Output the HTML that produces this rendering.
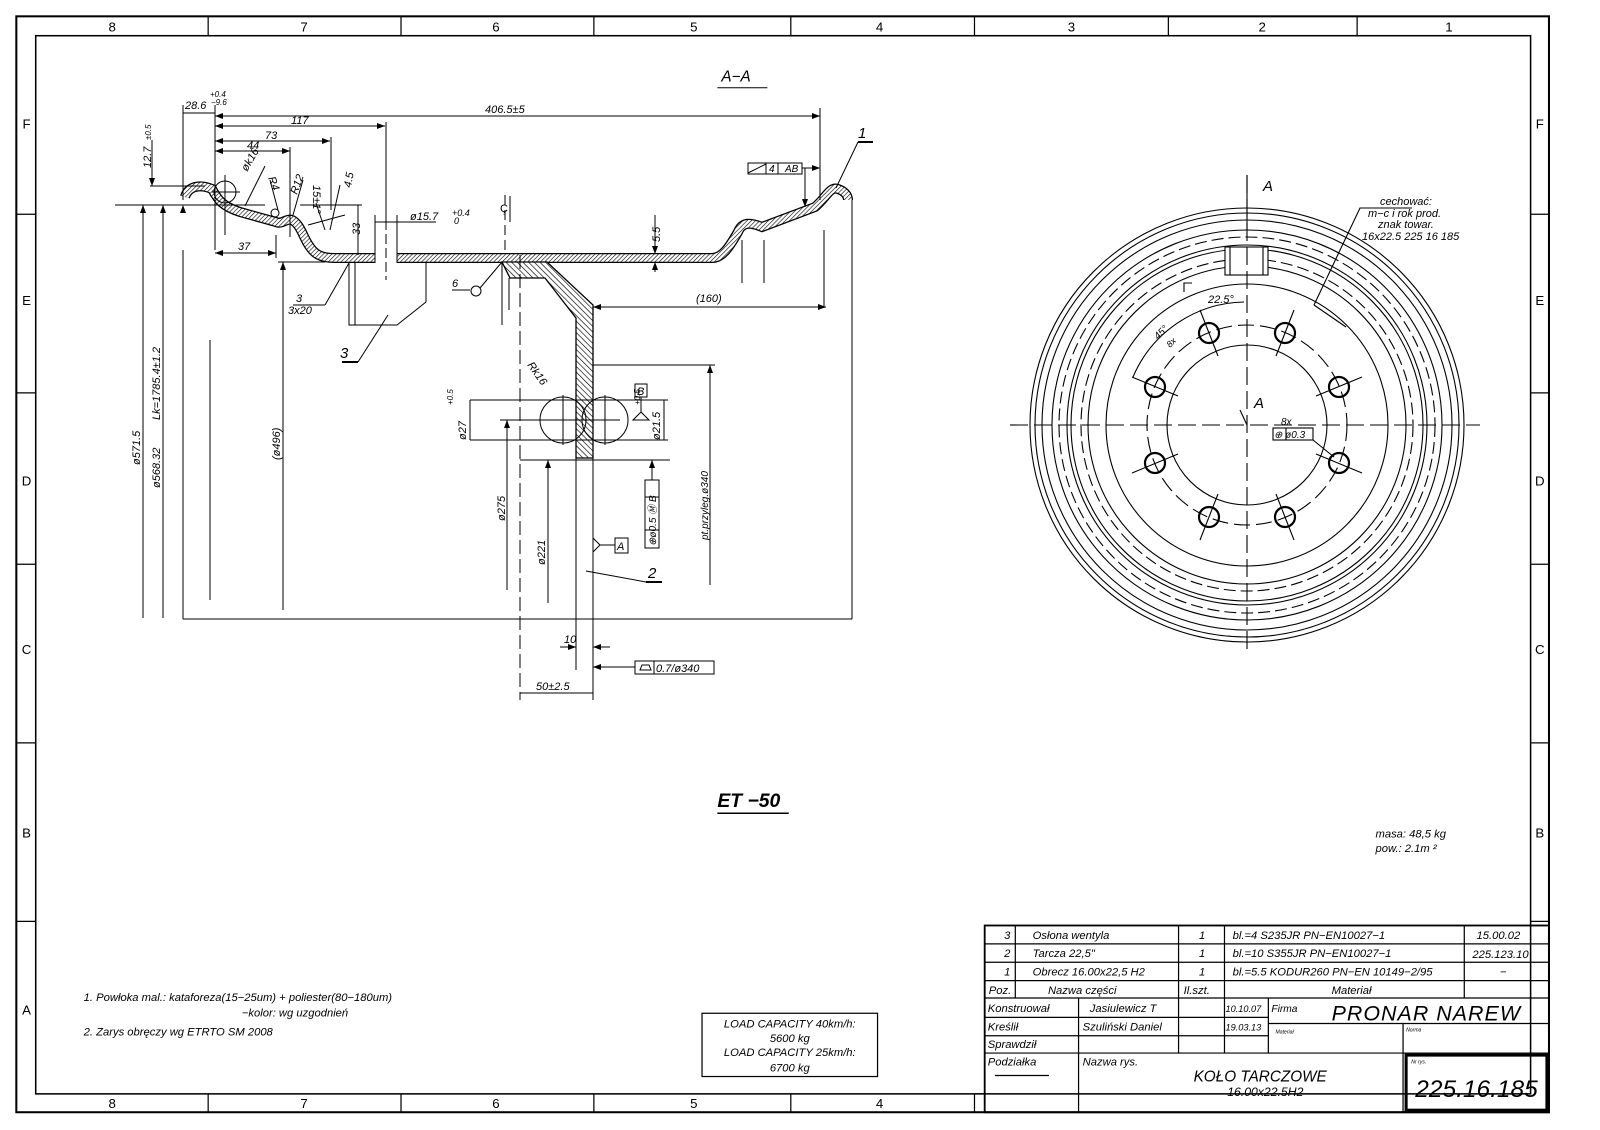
<!DOCTYPE html>
<html><head><meta charset="utf-8"><style>
html,body{margin:0;padding:0;background:#fff;}
svg{display:block;}
text{font-family:"Liberation Sans",sans-serif;font-style:italic;fill:#000;}
</style></head><body>
<svg width="1600" height="1130" viewBox="0 0 1600 1130" xmlns="http://www.w3.org/2000/svg">
<defs>
<pattern id="h" width="3" height="3" patternUnits="userSpaceOnUse" patternTransform="rotate(45)"><rect width="3" height="3" fill="#fff"/><line x1="0" y1="0" x2="0" y2="3" stroke="#000" stroke-width="1.2"/></pattern>
<pattern id="h2" width="4" height="4" patternUnits="userSpaceOnUse" patternTransform="rotate(-45)"><rect width="4" height="4" fill="#fff"/><line x1="0" y1="0" x2="0" y2="4" stroke="#000" stroke-width="1.3"/></pattern>
</defs>
<g transform="scale(1.0204)">
<g fill="none" stroke="#000">
<rect x="16" y="16" width="1502" height="1074" stroke-width="2"/>
<rect x="35" y="35" width="1465" height="1037" stroke-width="1.5"/>
<g stroke-width="1.2">
<line x1="204" y1="16" x2="204" y2="35"/><line x1="393" y1="16" x2="393" y2="35"/><line x1="582" y1="16" x2="582" y2="35"/><line x1="775" y1="16" x2="775" y2="35"/><line x1="955" y1="16" x2="955" y2="35"/><line x1="1145" y1="16" x2="1145" y2="35"/><line x1="1330" y1="16" x2="1330" y2="35"/>
<line x1="204" y1="1072" x2="204" y2="1090"/><line x1="393" y1="1072" x2="393" y2="1090"/><line x1="582" y1="1072" x2="582" y2="1090"/><line x1="775" y1="1072" x2="775" y2="1090"/><line x1="955" y1="1072" x2="955" y2="1090"/>
<line x1="16" y1="210" x2="35" y2="210"/><line x1="16" y1="385" x2="35" y2="385"/><line x1="16" y1="553" x2="35" y2="553"/><line x1="16" y1="728" x2="35" y2="728"/><line x1="16" y1="903" x2="35" y2="903"/>
<line x1="1500" y1="210" x2="1518" y2="210"/><line x1="1500" y1="385" x2="1518" y2="385"/><line x1="1500" y1="553" x2="1518" y2="553"/><line x1="1500" y1="728" x2="1518" y2="728"/><line x1="1500" y1="903" x2="1518" y2="903"/>
</g>
</g>
<g font-size="13" text-anchor="middle">
<text x="110" y="31" style="font-style:normal">8</text><text x="298" y="31" style="font-style:normal">7</text><text x="486" y="31" style="font-style:normal">6</text><text x="680" y="31" style="font-style:normal">5</text><text x="862" y="31" style="font-style:normal">4</text><text x="1050" y="31" style="font-style:normal">3</text><text x="1237" y="31" style="font-style:normal">2</text><text x="1420" y="31" style="font-style:normal">1</text>
<text x="110" y="1086" style="font-style:normal">8</text><text x="298" y="1086" style="font-style:normal">7</text><text x="486" y="1086" style="font-style:normal">6</text><text x="680" y="1086" style="font-style:normal">5</text><text x="862" y="1086" style="font-style:normal">4</text>
<text x="26" y="126" style="font-style:normal">F</text><text x="26" y="299" style="font-style:normal">E</text><text x="26" y="476" style="font-style:normal">D</text><text x="26" y="641" style="font-style:normal">C</text><text x="26" y="821" style="font-style:normal">B</text><text x="26" y="994" style="font-style:normal">A</text>
<text x="1509" y="126" style="font-style:normal">F</text><text x="1509" y="299" style="font-style:normal">E</text><text x="1509" y="476" style="font-style:normal">D</text><text x="1509" y="641" style="font-style:normal">C</text><text x="1509" y="821" style="font-style:normal">B</text>
</g>
<g font-size="11">
<text x="1348" y="821">masa:  48,5 kg</text>
<text x="1348" y="835">pow.: 2.1m ²</text>
<text x="82" y="981">1. Powłoka mal.: kataforeza(15−25um) + poliester(80−180um)</text>
<text x="237" y="996">−kolor: wg uzgodnień</text>
<text x="82" y="1015">2. Zarys obręczy wg ETRTO SM 2008</text>
</g>
<rect x="688" y="993" width="172" height="62" fill="none" stroke="#000" stroke-width="1.2"/>
<g font-size="11" text-anchor="middle">
<text x="774" y="1007">LOAD CAPACITY 40km/h:</text><text x="774" y="1021">5600 kg</text>
<text x="774" y="1035">LOAD CAPACITY 25km/h:</text><text x="774" y="1050">6700 kg</text>
</g>
<text x="703" y="791" font-size="19" font-weight="bold">ET −50</text>
<line x1="703" y1="797" x2="773" y2="797" stroke="#000" stroke-width="1.5"/>
<text x="707" y="80" font-size="15">A−A</text>
<line x1="703" y1="86" x2="752" y2="86" stroke="#000"/>
<!-- TITLE BLOCK -->
<g fill="none" stroke="#000" stroke-width="1.2">
<rect x="965" y="907" width="553" height="183" stroke-width="1.8"/>
<line x1="965" y1="925" x2="1518" y2="925"/><line x1="965" y1="943" x2="1518" y2="943"/><line x1="965" y1="961" x2="1518" y2="961"/><line x1="965" y1="978" x2="1518" y2="978"/>
<line x1="965" y1="997" x2="1243" y2="997"/><line x1="965" y1="1015" x2="1243" y2="1015"/><line x1="1243" y1="1003" x2="1518" y2="1003"/><line x1="965" y1="1032" x2="1518" y2="1032"/>
<line x1="995" y1="907" x2="995" y2="978"/><line x1="1155" y1="907" x2="1155" y2="1032"/><line x1="1200" y1="907" x2="1200" y2="1032"/><line x1="1435" y1="907" x2="1435" y2="978"/>
<line x1="1057" y1="978" x2="1057" y2="1090"/><line x1="1243" y1="978" x2="1243" y2="1032"/><line x1="1375" y1="1003" x2="1375" y2="1090"/>
<rect x="1378" y="1034" width="138" height="54" stroke-width="3"/>
<line x1="975" y1="1054" x2="1028" y2="1054"/>
<line x1="955" y1="1072" x2="965" y2="1072"/>
</g>
<g font-size="11">
<text x="984" y="920">3</text><text x="1012" y="920">Osłona wentyla</text><text x="1175" y="920">1</text><text x="1208" y="920">bl.=4  S235JR     PN−EN10027−1</text><text x="1447" y="920">15.00.02</text>
<text x="984" y="938">2</text><text x="1012" y="938">Tarcza 22,5"</text><text x="1175" y="938">1</text><text x="1208" y="938">bl.=10 S355JR     PN−EN10027−1</text><text x="1443" y="939">225.123.10</text>
<text x="984" y="956">1</text><text x="1012" y="956">Obrecz 16.00x22,5 H2</text><text x="1175" y="956">1</text><text x="1208" y="956">bl.=5.5 KODUR260 PN−EN 10149−2/95</text><text x="1470" y="956">−</text>
<text x="969" y="974">Poz.</text><text x="1027" y="974">Nazwa części</text><text x="1160" y="974">Il.szt.</text><text x="1305" y="974">Materiał</text>
<text x="968" y="992">Konstruował</text><text x="1068" y="992">Jasiulewicz T</text><text x="1201" y="992" font-size="9">10.10.07</text><text x="1246" y="992" font-size="10">Firma</text>
<text x="968" y="1010">Kreślił</text><text x="1061" y="1010">Szuliński Daniel</text><text x="1201" y="1010" font-size="9">19.03.13</text>
<text x="1250" y="1013" font-size="5">Materiał</text><text x="1378" y="1011" font-size="5">Norma</text>
<text x="968" y="1027">Sprawdził</text>
<text x="968" y="1044">Podziałka</text><text x="1061" y="1044">Nazwa rys.</text>
<text x="1383" y="1042" font-size="5">Nr rys.</text>
<text x="1305" y="1000" font-size="21" style="letter-spacing:1px">PRONAR  NAREW</text>
<text x="1235" y="1060" font-size="15" text-anchor="middle">KOŁO  TARCZOWE</text>
<text x="1240" y="1074" font-size="12" text-anchor="middle">16.00x22.5H2</text>
<text x="1447" y="1075" font-size="24" text-anchor="middle">225.16.185</text>
</g>
</g>

<!-- SECTION VIEW (original coords) -->
<g fill="none" stroke="#000" stroke-width="1">
<polyline points="183,250 183,619"/>
<line x1="183" y1="619" x2="852" y2="619"/>
<line x1="852" y1="199" x2="852" y2="619"/>
<path d="M185,197 C188,186 200,184 212,189 C218,200 222,206 240,212 L276,222 C282,225 286,218 292,220 C300,224 303,236 308,244 C314,254 320,258 335,258 L375,258 M397,258 L712,258 C724,258 732,242 738,232 C742,222 750,222 762,227 L815,207 C826,198 830,186 838,189 C844,191 848,195 848,200" stroke="#000" stroke-width="10"/>
<path d="M185,197 C188,186 200,184 212,189 C218,200 222,206 240,212 L276,222 C282,225 286,218 292,220 C300,224 303,236 308,244 C314,254 320,258 335,258 L375,258 M397,258 L712,258 C724,258 732,242 738,232 C742,222 750,222 762,227 L815,207 C826,198 830,186 838,189 C844,191 848,195 848,200" stroke="url(#h)" stroke-width="7.5"/>
<line x1="375" y1="253" x2="375" y2="263"/><line x1="397" y1="253" x2="397" y2="263"/>
<polygon points="502,262 547,262 593,305 593,458 576,458 576,318 545,278 510,278" fill="url(#h2)" stroke-width="1.3"/>
<circle cx="563" cy="420" r="23"/><circle cx="605" cy="420" r="23"/>
<line x1="563" y1="395" x2="563" y2="445"/><line x1="605" y1="395" x2="605" y2="445"/>
<line x1="470" y1="400" x2="668" y2="400"/><line x1="470" y1="440" x2="668" y2="440"/>
<line x1="500" y1="420" x2="620" y2="420"/>
<line x1="520" y1="460" x2="670" y2="460"/>
<line x1="576" y1="458" x2="576" y2="670"/><line x1="593" y1="458" x2="593" y2="700"/>
<line x1="520" y1="255" x2="520" y2="700" stroke-dasharray="14,5"/>
<line x1="502" y1="262" x2="502" y2="325"/><line x1="509" y1="278" x2="509" y2="310"/>
<line x1="505" y1="195" x2="505" y2="250" stroke-dasharray="10,5"/>
<polyline points="349,262 349,325 397,325 426,302 426,262"/>
<line x1="355" y1="262" x2="355" y2="325"/>
<line x1="386" y1="220" x2="386" y2="280" stroke-dasharray="10,4"/>
<line x1="375" y1="215" x2="375" y2="253"/><line x1="397" y1="215" x2="397" y2="253"/>
<line x1="742" y1="240" x2="742" y2="283"/><line x1="764" y1="240" x2="764" y2="283"/><line x1="824" y1="230" x2="824" y2="308"/>
<line x1="278" y1="262" x2="325" y2="262"/>
<line x1="115" y1="205" x2="265" y2="205"/>
<line x1="143" y1="205" x2="143" y2="618"/><line x1="163" y1="205" x2="163" y2="618"/>
<line x1="210" y1="340" x2="210" y2="600"/>
<line x1="283" y1="262" x2="283" y2="610"/>
<line x1="150" y1="186" x2="205" y2="186"/><line x1="152" y1="140" x2="152" y2="186"/>
<line x1="183" y1="105" x2="183" y2="200"/><line x1="215" y1="105" x2="215" y2="250"/>
<line x1="183" y1="113" x2="215" y2="113"/>
<line x1="215" y1="116" x2="820" y2="116"/><line x1="820" y1="108" x2="820" y2="200"/>
<line x1="215" y1="126" x2="385" y2="126"/><line x1="386" y1="122" x2="386" y2="225"/>
<line x1="215" y1="141" x2="330" y2="141"/><line x1="331" y1="137" x2="331" y2="210"/>
<line x1="215" y1="151" x2="290" y2="151"/><line x1="290" y1="147" x2="290" y2="237"/>
<line x1="215" y1="253" x2="276" y2="253"/><line x1="276" y1="235" x2="276" y2="258"/>
<line x1="245" y1="206" x2="265" y2="166"/>
<circle cx="225" cy="192" r="11"/><line x1="225" y1="175" x2="225" y2="235"/><line x1="212" y1="192" x2="240" y2="192"/>
<circle cx="275" cy="213" r="4"/>
<line x1="270" y1="180" x2="278" y2="210"/><line x1="303" y1="180" x2="293" y2="215"/>
<line x1="308" y1="225" x2="345" y2="215"/><line x1="316" y1="203" x2="325" y2="230"/>
<line x1="340" y1="185" x2="330" y2="230"/>
<line x1="300" y1="205" x2="362" y2="205"/><line x1="358" y1="205" x2="358" y2="255"/>
<line x1="375" y1="222" x2="436" y2="222"/>
<line x1="510" y1="196" x2="510" y2="222"/>
<line x1="452" y1="290" x2="470" y2="290"/><circle cx="476" cy="291" r="5"/><line x1="480" y1="288" x2="502" y2="262"/>
<line x1="293" y1="305" x2="325" y2="305"/><line x1="325" y1="305" x2="349" y2="263"/>
<line x1="342" y1="362" x2="358" y2="362" stroke-width="2"/><line x1="358" y1="362" x2="388" y2="315"/>
<line x1="858" y1="142" x2="873" y2="142" stroke-width="2"/><line x1="858" y1="142" x2="836" y2="188"/>
<line x1="646" y1="582" x2="662" y2="582" stroke-width="2"/><line x1="646" y1="582" x2="586" y2="571"/>
<line x1="655" y1="215" x2="655" y2="254"/><line x1="655" y1="262" x2="655" y2="272"/>
<rect x="748" y="163" width="54" height="11"/><line x1="766" y1="163" x2="766" y2="174"/><line x1="778" y1="163" x2="778" y2="174"/>
<line x1="748" y1="173" x2="766" y2="164"/>
<line x1="802" y1="168" x2="820" y2="168"/><line x1="805" y1="168" x2="805" y2="207"/>
<line x1="593" y1="307" x2="826" y2="307"/>
<line x1="593" y1="365" x2="715" y2="365"/><line x1="710" y1="365" x2="710" y2="585"/>
<line x1="507" y1="420" x2="507" y2="590"/><line x1="548" y1="460" x2="548" y2="603"/>
<line x1="470" y1="400" x2="470" y2="440"/>
<line x1="664" y1="400" x2="664" y2="440"/>
<rect x="635" y="384" width="12" height="13"/><line x1="641" y1="397" x2="641" y2="412"/><polygon points="633,420 649,420 641,412"/>
<rect x="645" y="480" width="14" height="68"/><line x1="645" y1="497" x2="659" y2="497"/><line x1="645" y1="530" x2="659" y2="530"/>
<line x1="652" y1="460" x2="652" y2="480"/>
<polyline points="593,538 600,545 593,552"/><line x1="600" y1="545" x2="615" y2="545"/><rect x="615" y="538" width="13" height="15"/>
<line x1="560" y1="647" x2="576" y2="647"/><line x1="593" y1="647" x2="610" y2="647"/>
<line x1="593" y1="667" x2="635" y2="667"/><rect x="635" y="661" width="79" height="13"/><line x1="654" y1="661" x2="654" y2="674"/><polygon points="640,670 651,670 649,665 642,665"/>
<line x1="520" y1="693" x2="593" y2="693"/>
</g>
<g fill="#000">
<polygon points="152,186 149,178 155,178"/><polygon points="143,205 140,213 146,213"/><polygon points="163,205 160,213 166,213"/><polygon points="183,205 180,213 186,213"/>
<polygon points="283,262 280,270 286,270"/><polygon points="820,116 812,113 812,119"/><polygon points="215,116 223,113 223,119"/>
<polygon points="385,126 377,123 377,129"/><polygon points="215,126 223,123 223,129"/><polygon points="330,141 322,138 322,144"/><polygon points="215,141 223,138 223,144"/><polygon points="290,151 282,148 282,154"/><polygon points="215,151 223,148 223,154"/>
<polygon points="276,253 268,250 268,256"/><polygon points="215,253 223,250 223,256"/>
<polygon points="593,307 601,304 601,310"/><polygon points="826,307 818,304 818,310"/>
<polygon points="710,365 707,373 713,373"/><polygon points="507,420 504,428 510,428"/><polygon points="548,460 545,468 551,468"/><polygon points="652,460 649,468 655,468"/>
<polygon points="576,647 568,644 568,650"/><polygon points="593,647 601,644 601,650"/><polygon points="593,667 601,664 601,670"/>
<polygon points="820,168 812,165 812,171"/><polygon points="805,207 802,199 808,199"/>
<polygon points="655,254 652,246 658,246"/><polygon points="655,262 652,270 658,270"/>
</g>
<g font-size="11">
<text x="185" y="109">28.6</text><text x="210" y="97" font-size="8">+0.4</text><text x="211" y="105" font-size="8">−9.6</text>
<text x="485" y="113">406.5±5</text><text x="291" y="124">117</text><text x="265" y="139">73</text><text x="247" y="149">44</text><text x="238" y="250">37</text>
<text transform="translate(151,168) rotate(-90)">12.7</text><text transform="translate(151,140) rotate(-90)" font-size="8">±0.5</text>
<text transform="translate(247,172) rotate(-60)">øk16</text>
<text transform="translate(268,178) rotate(70)">R4</text>
<text transform="translate(297,195) rotate(-70)">R12</text>
<text transform="translate(313,185) rotate(90)">15±1°</text>
<text transform="translate(351,188) rotate(-80)">4.5</text>
<text transform="translate(360,235) rotate(-90)">33</text>
<text x="410" y="220">ø15.7</text><text x="452" y="216" font-size="9">+0.4</text><text x="454" y="224" font-size="9">0</text>
<text x="500" y="212" style="font-style:normal">Ç</text>
<text transform="translate(660,242) rotate(-90)">5.5</text>
<text x="452" y="287">6</text><text x="296" y="302">3</text><text x="288" y="314">3x20</text>
<text x="340" y="358" font-size="15">3</text><text x="858" y="138" font-size="15">1</text><text x="648" y="578" font-size="15">2</text>
<text x="785" y="172" font-size="10">AB</text><text x="769" y="172" font-size="10">4</text>
<text x="696" y="302">(160)</text>
<text transform="translate(140,465) rotate(-90)">ø571.5</text>
<text transform="translate(160,488) rotate(-90)">ø568.32</text>
<text transform="translate(160,420) rotate(-90)">Lk=1785.4±1.2</text>
<text transform="translate(280,460) rotate(-90)">(ø496)</text>
<text transform="translate(527,365) rotate(55)">Rk16</text>
<text transform="translate(466,440) rotate(-90)">ø27</text><text transform="translate(453,405) rotate(-90)" font-size="8">+0.5</text>
<text transform="translate(660,440) rotate(-90)">ø21.5</text><text transform="translate(640,405) rotate(-90)" font-size="8">+0.5</text>
<text x="637" y="395" font-size="11">B</text>
<text transform="translate(656,546) rotate(-90)" font-size="10">⊕ø0.5 Ⓜ B</text>
<text transform="translate(505,521) rotate(-90)">ø275</text>
<text transform="translate(545,565) rotate(-90)">ø221</text>
<text transform="translate(708,540) rotate(-90)" font-size="10">pt.przyleg.ø340</text>
<text x="617" y="550">A</text>
<text x="564" y="643">10</text>
<text x="656" y="672" font-size="11">0.7/ø340</text>
<text x="536" y="690">50±2.5</text>
</g>

<!-- WHEEL VIEW -->
<g fill="none" stroke="#000" stroke-width="1.1">
<circle cx="1247" cy="425" r="217"/><circle cx="1247" cy="425" r="212"/><circle cx="1247" cy="425" r="205"/>
<circle cx="1247" cy="425" r="195"/>
<circle cx="1247" cy="425" r="188" stroke-dasharray="12,5"/>
<circle cx="1247" cy="425" r="180"/><circle cx="1247" cy="425" r="176"/>
<circle cx="1247" cy="425" r="166" stroke-dasharray="12,5"/>
<circle cx="1247" cy="425" r="159"/>
<circle cx="1247" cy="425" r="141"/>
<circle cx="1247" cy="425" r="100" stroke-dasharray="16,6"/>
<circle cx="1247" cy="425" r="80"/>
<rect x="1225" y="247" width="43" height="28" fill="#fff"/><line x1="1230" y1="247" x2="1230" y2="275"/><line x1="1263" y1="247" x2="1263" y2="275"/>
<line x1="1010" y1="425" x2="1480" y2="425" stroke-dasharray="18,6"/>
<line x1="1247" y1="175" x2="1247" y2="650" stroke-dasharray="18,6"/>
<line x1="1247" y1="175" x2="1247" y2="230"/>
<circle cx="1285" cy="333" r="10" stroke-width="2.2"/><circle cx="1339" cy="387" r="10" stroke-width="2.2"/><circle cx="1339" cy="463" r="10" stroke-width="2.2"/><circle cx="1285" cy="517" r="10" stroke-width="2.2"/>
<circle cx="1209" cy="517" r="10" stroke-width="2.2"/><circle cx="1155" cy="463" r="10" stroke-width="2.2"/><circle cx="1155" cy="387" r="10" stroke-width="2.2"/><circle cx="1209" cy="333" r="10" stroke-width="2.2"/>
<line x1="1294" y1="310" x2="1276" y2="356"/><line x1="1362" y1="377" x2="1316" y2="396"/><line x1="1362" y1="473" x2="1316" y2="454"/><line x1="1294" y1="540" x2="1276" y2="494"/>
<line x1="1200" y1="540" x2="1218" y2="494"/><line x1="1132" y1="473" x2="1178" y2="454"/><line x1="1132" y1="377" x2="1178" y2="396"/><line x1="1200" y1="310" x2="1218" y2="356"/>
<path d="M1133,377 A123,123 0 0 1 1244,302"/>
<polyline points="1192,283 1184,283 1184,292"/>
<line x1="1240" y1="410" x2="1247" y2="425"/>
<rect x="1273" y="428" width="40" height="12"/><line x1="1286" y1="428" x2="1286" y2="440"/>
<line x1="1313" y1="440" x2="1334" y2="457"/>
<polyline points="1412,208 1360,208 1314,305"/><line x1="1314" y1="305" x2="1346" y2="327"/>
</g>
<g font-size="11">
<text x="1263" y="191" font-size="15">A</text><text x="1254" y="408" font-size="15">A</text>
<text x="1208" y="303">22.5°</text>
<text transform="translate(1158,340) rotate(-45)" font-size="10">45°</text>
<text transform="translate(1170,348) rotate(-45)" font-size="9">8x</text>
<text x="1281" y="425" font-size="10">8x</text><text x="1274" y="438" font-size="10">⊕ ø0.3</text>
<text x="1380" y="205">cechować:</text>
<text x="1368" y="217">m−c i rok prod.</text>
<text x="1378" y="228">znak towar.</text>
<text x="1362" y="240">16x22.5   225 16 185</text>
</g>
</svg>
</body></html>
